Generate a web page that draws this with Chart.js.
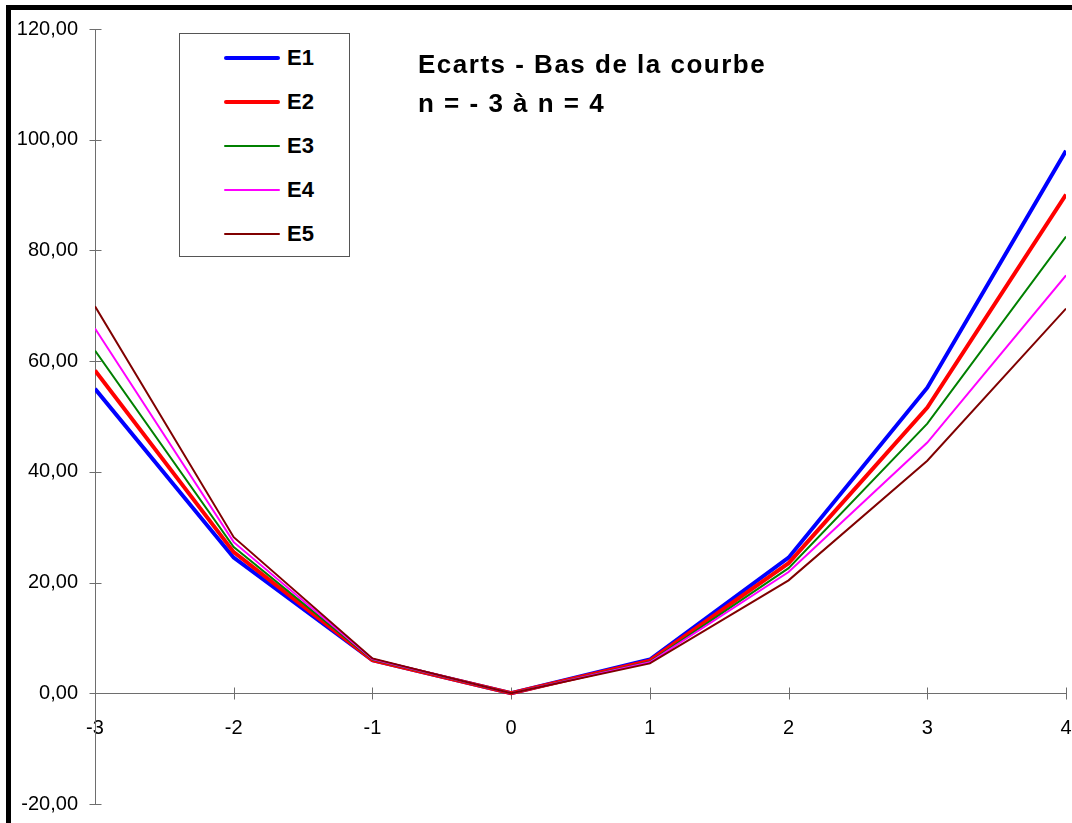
<!DOCTYPE html>
<html lang="fr">
<head>
    <meta charset="UTF-8">
    <title>Ecarts - Bas de la courbe</title>
    <script src="https://cdn.jsdelivr.net/npm/chart.js"></script>
    <style>
        body {
            margin: 0;
            background: #ffffff;
            overflow: hidden;
            font-family: "Liberation Sans", Arial, sans-serif;
        }
        #zone {
            position: relative;
            width: 1072px;
            height: 823px;
            overflow: hidden;
        }
        canvas {
            position: absolute;
            left: 0;
            top: 0;
        }
        .cadre {
            position: absolute;
            left: 6px;
            top: 5px;
            width: 2000px;
            height: 2000px;
            border: 5px solid #000;
            pointer-events: none;
        }
        .legende {
            position: absolute;
            left: 179px;
            top: 33px;
            width: 171px;
            height: 224px;
            border: 1px solid #555;
            background: #fff;
            box-sizing: border-box;
            padding-top: 2px;
        }
        .ligne {
            height: 44px;
            display: flex;
            align-items: center;
        }
        .trait {
            margin-left: 44px;
            width: 56px;
            border-radius: 2px;
        }
        .nom {
            margin-left: 7px;
            font-weight: bold;
            font-size: 22px;
            color: #000;
        }
        .titre {
            position: absolute;
            left: 418px;
            top: 45px;
            font-weight: bold;
            font-size: 26px;
            letter-spacing: 1.5px;
            line-height: 39px;
            color: #000;
        }
    </style>
</head>
<body>

<div id="zone">
    <canvas id="ecartsChart" width="1072" height="823"></canvas>
    <div class="cadre"></div>
    <div class="legende" id="legende"></div>
    <div class="titre">Ecarts - Bas de la courbe<br>n = - 3 à n = 4</div>
</div>

<script>
    // valeurs de n
    const valeursN = [-3, -2, -1, 0, 1, 2, 3, 4];

    // séries
    const E1 = [55.0, 24.5, 6.0, 0, 6.1, 24.5, 55.2, 98.0];
    const E2 = [58.3, 25.5, 6.0, 0, 5.9, 23.5, 51.6, 90.1];
    const E3 = [61.9, 26.4, 6.1, 0, 5.7, 22.6, 48.7, 82.5];
    const E4 = [65.9, 27.3, 6.2, 0, 5.6, 21.9, 45.3, 75.5];
    const E5 = [69.9, 28.2, 6.3, 0, 5.4, 20.4, 42.0, 69.5];

    const nomsSeries = ['E1', 'E2', 'E3', 'E4', 'E5'];
    const series = [E1, E2, E3, E4, E5];
    const couleurs = ['#0000ff', '#ff0000', '#008000', '#ff00ff', '#800000'];
    const epaisseurs = [4, 4, 2, 2, 2];

    // graduations de l'axe vertical
    const ticksY = [-20, 0, 20, 40, 60, 80, 100, 120];

    // Légende
    const legende = document.getElementById('legende');
    nomsSeries.forEach((nom, i) => {
        legende.innerHTML += `
            <div class="ligne">
                <div class="trait" style="height:${epaisseurs[i]}px;background:${couleurs[i]}"></div>
                <div class="nom">${nom}</div>
            </div>
        `;
    });

    const grisAxe = '#6e6e6e';

    // petits traits qui croisent les axes
    const traitsAxes = {
        id: 'traitsAxes',
        beforeDatasetsDraw(chart) {
            const ctx = chart.ctx;
            const sx = chart.scales.x;
            const sy = chart.scales.y;
            const x0 = Math.round(sx.getPixelForValue(valeursN[0])) + 0.5;
            const y0 = Math.round(sy.getPixelForValue(0)) + 0.5;
            ctx.save();
            ctx.strokeStyle = grisAxe;
            ctx.lineWidth = 1;
            ctx.beginPath();
            ticksY.forEach(v => {
                const y = Math.round(sy.getPixelForValue(v)) + 0.5;
                ctx.moveTo(x0 - 6, y);
                ctx.lineTo(x0 + 6, y);
            });
            valeursN.forEach(v => {
                const x = Math.round(sx.getPixelForValue(v)) + 0.5;
                ctx.moveTo(x, y0 - 6);
                ctx.lineTo(x, y0 + 6);
            });
            ctx.stroke();
            ctx.restore();
        }
    };

    const ctx = document.getElementById('ecartsChart').getContext('2d');
    new Chart(ctx, {
        type: 'line',
        data: {
            datasets: series.map((s, i) => ({
                label: nomsSeries[i],
                data: valeursN.map((n, k) => ({ x: n, y: s[k] })),
                borderColor: couleurs[i],
                backgroundColor: couleurs[i],
                borderWidth: epaisseurs[i],
                pointRadius: 0,
                tension: 0,
                fill: false,
                order: 4 - i
            }))
        },
        options: {
            responsive: false,
            animation: false,
            layout: {
                padding: { left: 0, right: 6, top: 29, bottom: 19 }
            },
            scales: {
                x: {
                    type: 'linear',
                    position: { y: 0 },
                    min: -3,
                    max: 4,
                    afterFit: (scale) => {
                        scale.height = 0;
                        scale.paddingLeft = 0;
                        scale.paddingRight = 0;
                    },
                    afterBuildTicks: (scale) => {
                        scale.ticks = valeursN.map(v => ({ value: v }));
                    },
                    grid: { display: false },
                    border: { display: true, color: grisAxe, width: 1 },
                    ticks: {
                        color: '#000',
                        padding: 15,
                        maxRotation: 0,
                        font: { family: '"Liberation Sans", Arial', size: 20 },
                        callback: (v) => String(v)
                    }
                },
                y: {
                    min: -20,
                    max: 120,
                    afterFit: (scale) => {
                        scale.width = 95;
                        scale.paddingTop = 0;
                        scale.paddingBottom = 0;
                    },
                    afterBuildTicks: (scale) => {
                        scale.ticks = ticksY.map(v => ({ value: v }));
                    },
                    grid: { display: false },
                    border: { display: true, color: grisAxe, width: 1 },
                    ticks: {
                        color: '#000',
                        padding: 9,
                        font: { family: '"Liberation Sans", Arial', size: 20 },
                        callback: (v) => v.toFixed(2).replace('.', ',')
                    }
                }
            },
            plugins: {
                legend: { display: false },
                tooltip: { enabled: false }
            }
        },
        plugins: [traitsAxes]
    });
</script>

</body>
</html>
